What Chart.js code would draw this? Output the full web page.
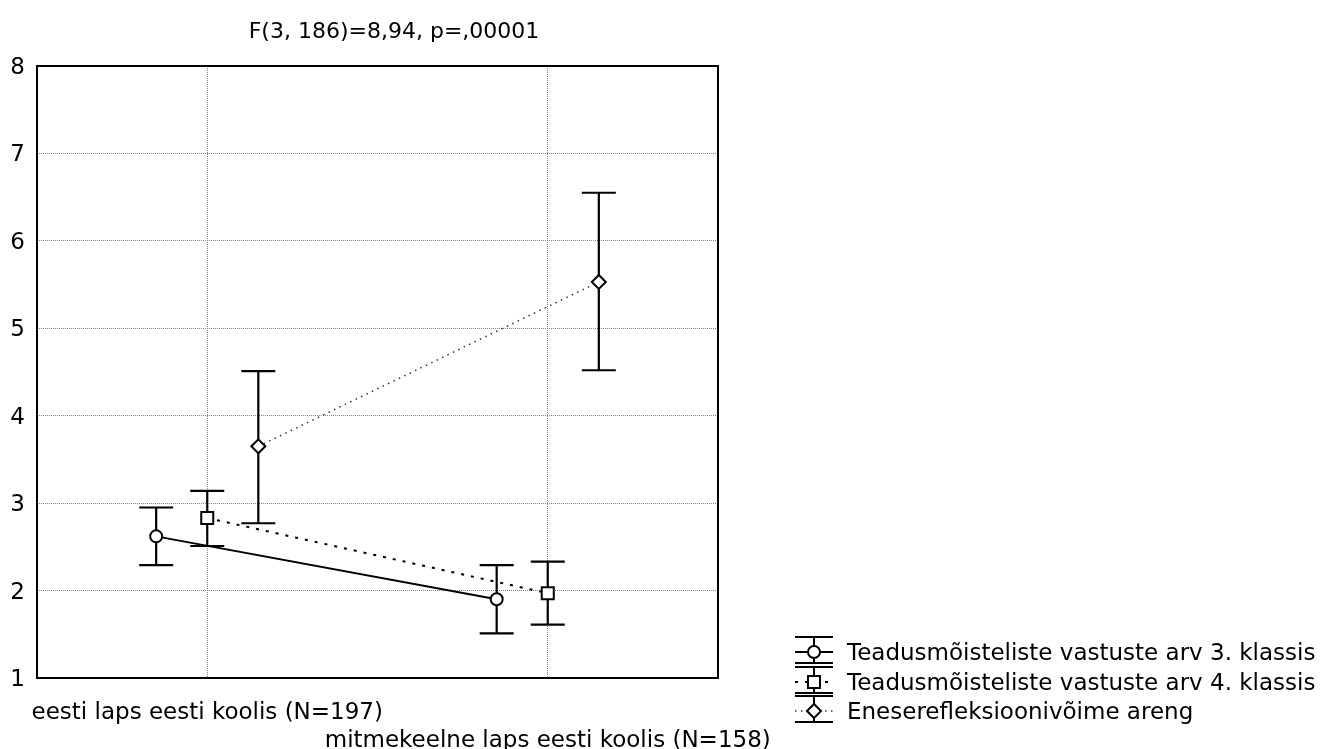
<!DOCTYPE html>
<html>
<head>
<meta charset="utf-8">
<script src="https://cdn.jsdelivr.net/npm/chart.js@4.4.0/dist/chart.umd.min.js"></script>
<style>
  html, body { margin: 0; padding: 0; background: #fff; }
  #wrap { width: 1325px; height: 749px; }
</style>
</head>
<body>
<div id="wrap"><canvas id="myChart" width="1325" height="749"></canvas></div>
<script>
// Grupid (x-telje kategooriad)
const grupid = ['eesti laps eesti koolis (N=197)', 'mitmekeelne laps eesti koolis (N=158)'];

// Sarjade nimed
const sarjad = [
    'Teadusmõisteliste vastuste arv 3. klassis',
    'Teadusmõisteliste vastuste arv 4. klassis',
    'Eneserefleksioonivõime areng'
];

// Keskmised ja usalduspiirid
const keskmine3 = [2.62, 1.90];
const alumine3 = [2.29, 1.51];
const ylemine3 = [2.95, 2.29];

const keskmine4 = [2.83, 1.97];
const alumine4 = [2.51, 1.61];
const ylemine4 = [3.14, 2.33];

const keskmineR = [3.65, 5.53];
const alumineR = [2.77, 4.52];
const ylemineR = [4.51, 6.55];

// y-telje jaotised
const yTicks = [1, 2, 3, 4, 5, 6, 7, 8];

const pealkiri = 'F(3, 186)=8,94, p=,00001';

const FONT = "'DejaVu Sans', sans-serif";

// sarjade nihe grupi ümber
const nihe = [-0.15, 0, 0.15];

function punktid(keskmised, s) {
    return keskmised.map((v, i) => ({ x: i + 1 + nihe[s], y: v }));
}

const piirid = [
    { alumine: alumine3, ylemine: ylemine3 },
    { alumine: alumine4, ylemine: ylemine4 },
    { alumine: alumineR, ylemine: ylemineR }
];

const stiilid = [
    { pointStyle: 'circle', radius: 6, dash: [], width: 2, color: '#000' },
    { pointStyle: 'rect', radius: 8.5, dash: [3, 7], width: 2, color: '#000' },
    { pointStyle: 'rectRot', radius: 7, dash: [1.5, 4.5], width: 1.5, color: '#333' }
];

// raam, veajooned, pealkiri ja legend
const joonistaja = {
    id: 'joonistaja',
    beforeDatasetsDraw(chart) {
        const { ctx, chartArea: a, scales: { x, y } } = chart;
        ctx.save();
        ctx.strokeStyle = '#000';
        ctx.lineWidth = 2;
        ctx.strokeRect(a.left, a.top, a.right - a.left, a.bottom - a.top);

        // veajooned
        ctx.lineWidth = 2.2;
        piirid.forEach((p, s) => {
            p.alumine.forEach((lo, i) => {
                const px = x.getPixelForValue(i + 1 + nihe[s]);
                const y1 = y.getPixelForValue(lo);
                const y2 = y.getPixelForValue(p.ylemine[i]);
                ctx.beginPath();
                ctx.moveTo(px, y1);
                ctx.lineTo(px, y2);
                ctx.moveTo(px - 17, y1);
                ctx.lineTo(px + 17, y1);
                ctx.moveTo(px - 17, y2);
                ctx.lineTo(px + 17, y2);
                ctx.stroke();
            });
        });
        ctx.restore();
    },
    afterDraw(chart) {
        const { ctx } = chart;
        ctx.save();
        ctx.fillStyle = '#000';
        ctx.font = '22px ' + FONT;
        ctx.textBaseline = 'middle';
        ctx.textAlign = 'center';
        ctx.fillText(pealkiri, 394, 32);

        // legend
        const ridu = [652, 682, 711];
        ctx.font = '23px ' + FONT;
        ctx.textAlign = 'left';
        sarjad.forEach((nimi, s) => {
            const st = stiilid[s];
            const yy = ridu[s];
            const x0 = 795, x1 = 833, xc = 814;
            ctx.strokeStyle = '#000';
            ctx.lineWidth = 2;
            ctx.setLineDash([]);
            ctx.beginPath();
            ctx.moveTo(x0, yy - 15); ctx.lineTo(x1, yy - 15);
            ctx.moveTo(x0, yy + 11); ctx.lineTo(x1, yy + 11);
            ctx.moveTo(xc, yy - 15); ctx.lineTo(xc, yy + 11);
            ctx.stroke();
            ctx.strokeStyle = st.color;
            ctx.lineWidth = st.width;
            ctx.setLineDash(st.dash);
            ctx.beginPath();
            ctx.moveTo(x0, yy); ctx.lineTo(x1, yy);
            ctx.stroke();
            ctx.setLineDash([]);
            ctx.fillStyle = '#fff';
            ctx.strokeStyle = '#000';
            ctx.lineWidth = 2;
            Chart.helpers.drawPoint(ctx, { pointStyle: st.pointStyle, radius: st.radius, rotation: 0, borderWidth: 2 }, xc, yy);
            ctx.fillStyle = '#000';
            ctx.fillText(nimi, 847, yy + 2);
        });
        ctx.restore();
    }
};

const keskmised = [keskmine3, keskmine4, keskmineR];

const config = {
    type: 'scatter',
    data: {
        datasets: keskmised.map((k, s) => ({
            label: sarjad[s],
            data: punktid(k, s),
            showLine: true,
            borderColor: stiilid[s].color,
            borderWidth: stiilid[s].width,
            borderDash: stiilid[s].dash,
            pointStyle: stiilid[s].pointStyle,
            pointRadius: stiilid[s].radius,
            pointBackgroundColor: '#fff',
            pointBorderColor: '#000',
            pointBorderWidth: 2
        }))
    },
    options: {
        responsive: false,
        animation: false,
        layout: { padding: { left: 0, right: 607, top: 66, bottom: 0 } },
        plugins: {
            legend: { display: false },
            title: { display: false },
            tooltip: { enabled: false }
        },
        scales: {
            x: {
                type: 'linear',
                min: 0.5,
                max: 2.5,
                afterBuildTicks: (scale) => { scale.ticks = grupid.map((g, i) => ({ value: i + 1 })); },
                afterFit: (scale) => { scale.height = 71; },
                border: { display: false, dash: [1, 1] },
                grid: { color: '#808080', lineWidth: 1, drawTicks: false },
                ticks: {
                    autoSkip: false,
                    maxRotation: 0,
                    padding: 21,
                    color: '#000',
                    font: { family: FONT, size: 23, lineHeight: 1.22 },
                    callback: (v) => (v === 1 ? [grupid[0], ''] : ['', grupid[1]])
                }
            },
            y: {
                min: 1,
                max: 8,
                afterBuildTicks: (scale) => { scale.ticks = yTicks.map(v => ({ value: v })); },
                afterFit: (scale) => { scale.width = 37; },
                border: { display: false, dash: [1, 1] },
                grid: { color: '#808080', lineWidth: 1, drawTicks: false },
                ticks: {
                    padding: 12,
                    labelOffset: 2,
                    color: '#000',
                    font: { family: FONT, size: 23 }
                }
            }
        }
    },
    plugins: [joonistaja]
};

var ctx = document.getElementById('myChart').getContext('2d');
new Chart(ctx, config);
</script>
</body>
</html>
